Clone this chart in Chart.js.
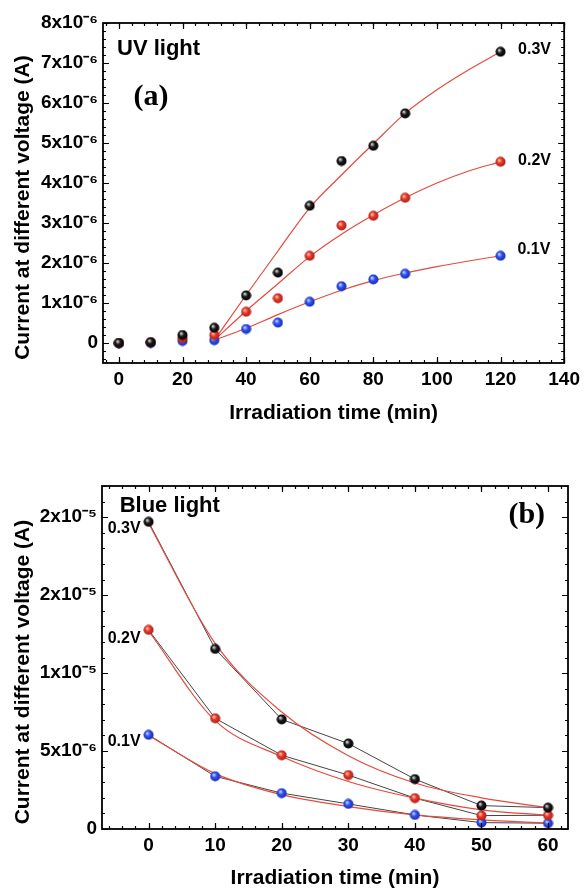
<!DOCTYPE html>
<html lang="en">
<head>
<meta charset="UTF-8">
<title>Current vs irradiation time</title>
<style>
  html, body { margin: 0; padding: 0; background: #fff; }
  .box { position: absolute; left: 0; width: 585px; }
  #boxA { top: 0; height: 440px; }
  #boxB { top: 440px; height: 452px; }
</style>
</head>
<body>
<div class="box" id="boxA"><canvas id="chartA" width="585" height="440"></canvas></div>
<div class="box" id="boxB"><canvas id="chartB" width="585" height="452"></canvas></div>
<script src="https://cdn.jsdelivr.net/npm/chart.js"></script>
<script>
// values in units of 1x10^-6 A

// (a) UV light
const uvTime = [0, 10, 20, 30, 40, 50, 60, 70, 80, 90, 120];
const uv03 = [0, 0.02, 0.2, 0.38, 1.19, 1.76, 3.43, 4.55, 4.93, 5.74, 7.28];
const uv02 = [0, 0.02, 0.12, 0.2, 0.78, 1.12, 2.18, 2.94, 3.18, 3.63, 4.53];
const uv01 = [-0.01, 0, 0.05, 0.07, 0.35, 0.51, 1.03, 1.42, 1.59, 1.73, 2.18];
const uvFitTime = [30, 40, 50, 60, 70, 80, 90, 100, 110, 120];
const uvFit03 = [0.07, 1.2, 2.3, 3.38, 4.2, 4.98, 5.74, 6.33, 6.83, 7.28];
const uvFit02 = [0.07, 0.8, 1.48, 2.16, 2.72, 3.2, 3.63, 4.0, 4.3, 4.53];
const uvFit01 = [0.07, 0.37, 0.71, 1.03, 1.32, 1.56, 1.75, 1.91, 2.05, 2.18];
const uvXTicks = [0, 20, 40, 60, 80, 100, 120, 140];
const uvYTicks = [0, 1, 2, 3, 4, 5, 6, 7, 8];
const uvYLabels = ['0', '1x10⁻⁶', '2x10⁻⁶', '3x10⁻⁶', '4x10⁻⁶', '5x10⁻⁶', '6x10⁻⁶', '7x10⁻⁶', '8x10⁻⁶'];

// (b) Blue light
const blueTime = [0, 10, 20, 30, 40, 50, 60];
const blue03 = [19.7, 11.55, 7.03, 5.48, 3.2, 1.5, 1.37];
const blue02 = [12.77, 7.1, 4.73, 3.46, 1.98, 0.86, 0.88];
const blue01 = [6.04, 3.38, 2.3, 1.61, 0.9, 0.41, 0.37];
const blueFit03 = [19.6, 11.9, 7.5, 4.7, 2.95, 2.0, 1.37];
const blueFit02 = [12.7, 6.95, 4.65, 3.05, 1.98, 1.23, 0.88];
const blueFit01 = [6.0, 3.55, 2.2, 1.44, 0.9, 0.58, 0.37];
const blueXTicks = [0, 10, 20, 30, 40, 50, 60];
const blueYTicks = [0, 5, 10, 15, 20];
const blueYLabels = ['0', '5x10⁻⁶', '1x10⁻⁵', '2x10⁻⁵', '2x10⁻⁵'];

const SANS = "'Liberation Sans', Arial, sans-serif";
const SERIF = "'Liberation Serif', 'Times New Roman', serif";
const FIT_RED = '#e64a3e';

function range(a, b, step) {
  const out = [];
  for (let v = a; v <= b + 1e-9; v += step) out.push(Math.round(v * 1000) / 1000);
  return out;
}

function ball(light, base, dark) {
  const c = document.createElement('canvas');
  c.width = c.height = 11;
  const g = c.getContext('2d');
  const grad = g.createRadialGradient(4, 3.8, 0.4, 5.5, 5.5, 5.5);
  grad.addColorStop(0, light);
  grad.addColorStop(0.4, base);
  grad.addColorStop(1, dark);
  g.fillStyle = grad;
  g.beginPath();
  g.arc(5.5, 5.5, 5, 0, Math.PI * 2);
  g.fill();
  return c;
}
const blackBall = ball('#d8d8d8', '#1a1a1a', '#000');
const redBall = ball('#ffc0b0', '#e53a2c', '#a8190e');
const blueBall = ball('#c8d4ff', '#2f52f2', '#1426a8');

const pts = (xs, ys) => xs.map((x, i) => ({ x, y: ys[i] }));

// frame with inward ticks on all four sides + text notes
const boxTicks = {
  id: 'boxTicks',
  afterDatasetsDraw(chart, args, o) {
    const { ctx, chartArea: a, scales: { x, y } } = chart;
    ctx.save();
    ctx.strokeStyle = '#000';
    ctx.lineWidth = 1.2;
    const tick = (scale, values, len) => {
      values.forEach(v => {
        const p = Math.round(scale.getPixelForValue(v)) + 0.5;
        ctx.beginPath();
        if (scale.isHorizontal()) {
          ctx.moveTo(p, a.bottom); ctx.lineTo(p, a.bottom - len);
          ctx.moveTo(p, a.top); ctx.lineTo(p, a.top + len);
        } else {
          ctx.moveTo(a.left, p); ctx.lineTo(a.left + len, p);
          ctx.moveTo(a.right, p); ctx.lineTo(a.right - len, p);
        }
        ctx.stroke();
      });
    };
    tick(x, o.xMinor, 3);
    tick(x, o.xMajor, 6);
    tick(y, o.yMinor, 3);
    tick(y, o.yMajor, 6);
    ctx.lineWidth = 1.8;
    ctx.strokeRect(a.left, a.top, a.right - a.left, a.bottom - a.top);
    ctx.fillStyle = '#000';
    ctx.textBaseline = 'middle';
    o.notes.forEach(n => {
      ctx.font = n.font;
      ctx.textAlign = n.align;
      ctx.fillText(n.text, x.getPixelForValue(n.x), y.getPixelForValue(n.y));
    });
    ctx.restore();
  }
};

function scatterSet(data, img) {
  return { type: 'scatter', data, pointStyle: img, pointRadius: 5, showLine: false, order: 0 };
}
function lineSet(data, color, width) {
  return {
    type: 'line', data, borderColor: color, borderWidth: width, pointRadius: 0,
    fill: false, cubicInterpolationMode: 'monotone', order: 1
  };
}

function makeOptions(c) {
  return {
    responsive: false,
    animation: false,
    devicePixelRatio: 1,
    layout: { padding: { top: c.padTop, right: c.padRight, left: 0, bottom: 0 } },
    plugins: {
      legend: { display: false },
      tooltip: { enabled: false },
      boxTicks: { xMajor: c.xTicks, xMinor: c.xMinor, yMajor: c.yTicks, yMinor: c.yMinor, notes: c.notes }
    },
    scales: {
      x: {
        type: 'linear', min: c.xMin, max: c.xMax,
        grid: { display: false, drawTicks: false }, border: { display: false },
        afterBuildTicks: s => { s.ticks = c.xTicks.map(v => ({ value: v })); },
        afterFit: s => { s.height = c.xHeight; },
        ticks: { autoSkip: false, maxRotation: 0, padding: c.xTickPad, color: '#000',
          font: { family: SANS, size: 19, weight: 'bold' }, callback: v => String(v) },
        title: { display: true, text: 'Irradiation time (min)', color: '#000',
          font: { family: SANS, size: 21, weight: 'bold' }, padding: { top: 0, bottom: c.xTitlePad } }
      },
      y: {
        type: 'linear', min: c.yMin, max: c.yMax,
        grid: { display: false, drawTicks: false }, border: { display: false },
        afterBuildTicks: s => { s.ticks = c.yTicks.map(v => ({ value: v })); },
        afterFit: s => { s.width = c.yWidth; },
        ticks: { autoSkip: false, padding: 5, color: '#000',
          font: { family: SANS, size: 19, weight: 'bold' },
          callback: v => c.yLabels[c.yTicks.indexOf(v)] },
        title: { display: true, text: 'Current at different voltage (A)     ', color: '#000',
          font: { family: SANS, size: 21, weight: 'bold' }, padding: { top: 11, bottom: 0 } }
      }
    }
  };
}

new Chart(document.getElementById('chartA'), {
  data: {
    datasets: [
      scatterSet(pts(uvTime, uv03), blackBall),
      scatterSet(pts(uvTime, uv02), redBall),
      scatterSet(pts(uvTime, uv01), blueBall),
      lineSet(pts(uvFitTime, uvFit03), FIT_RED, 1.2),
      lineSet(pts(uvFitTime, uvFit02), FIT_RED, 1.2),
      lineSet(pts(uvFitTime, uvFit01), FIT_RED, 1.2)
    ]
  },
  options: makeOptions({
    padTop: 23, padRight: 18, xHeight: 77, yWidth: 103, xTitlePad: 14, xTickPad: 5,
    xMin: -5, xMax: 140, yMin: -0.5, yMax: 8,
    xTicks: uvXTicks, xMinor: range(-4, 140, 4),
    yTicks: uvYTicks, yMinor: range(-0.4, 8, 0.2), yLabels: uvYLabels,
    notes: [
      { text: 'UV light', x: -0.6, y: 7.35, align: 'left', font: 'bold 22px ' + SANS },
      { text: '(a)', x: 10.1, y: 6.15, align: 'center', font: 'bold 30px ' + SERIF },
      { text: '0.3V', x: 125.5, y: 7.33, align: 'left', font: 'bold 16px ' + SANS },
      { text: '0.2V', x: 125.5, y: 4.55, align: 'left', font: 'bold 16px ' + SANS },
      { text: '0.1V', x: 125.3, y: 2.33, align: 'left', font: 'bold 16px ' + SANS }
    ]
  }),
  plugins: [boxTicks]
});

new Chart(document.getElementById('chartB'), {
  data: {
    datasets: [
      scatterSet(pts(blueTime, blue03), blackBall),
      scatterSet(pts(blueTime, blue02), redBall),
      scatterSet(pts(blueTime, blue01), blueBall),
      lineSet(pts(blueTime, blueFit03), FIT_RED, 1.2),
      lineSet(pts(blueTime, blueFit02), FIT_RED, 1.2),
      lineSet(pts(blueTime, blueFit01), FIT_RED, 1.2),
      { ...lineSet(pts(blueTime, blue03), '#444', 1), cubicInterpolationMode: 'default', tension: 0 },
      { ...lineSet(pts(blueTime, blue02), '#444', 1), cubicInterpolationMode: 'default', tension: 0 },
      { ...lineSet(pts(blueTime, blue01), '#444', 1), cubicInterpolationMode: 'default', tension: 0 }
    ]
  },
  options: makeOptions({
    padTop: 46, padRight: 17, xHeight: 63, yWidth: 102, xTitlePad: 1, xTickPad: 5,
    xMin: -7, xMax: 63, yMin: 0, yMax: 22,
    xTicks: blueXTicks, xMinor: range(-6, 62, 2),
    yTicks: blueYTicks, yMinor: range(0, 22, 1), yLabels: blueYLabels,
    notes: [
      { text: 'Blue light', x: -4.35, y: 20.7, align: 'left', font: 'bold 22px ' + SANS },
      { text: '(b)', x: 56.8, y: 20.1, align: 'center', font: 'bold 30px ' + SERIF },
      { text: '0.3V', x: -6.15, y: 19.3, align: 'left', font: 'bold 16px ' + SANS },
      { text: '0.2V', x: -6.15, y: 12.2, align: 'left', font: 'bold 16px ' + SANS },
      { text: '0.1V', x: -6.15, y: 5.63, align: 'left', font: 'bold 16px ' + SANS }
    ]
  }),
  plugins: [boxTicks]
});
</script>
</body>
</html>
